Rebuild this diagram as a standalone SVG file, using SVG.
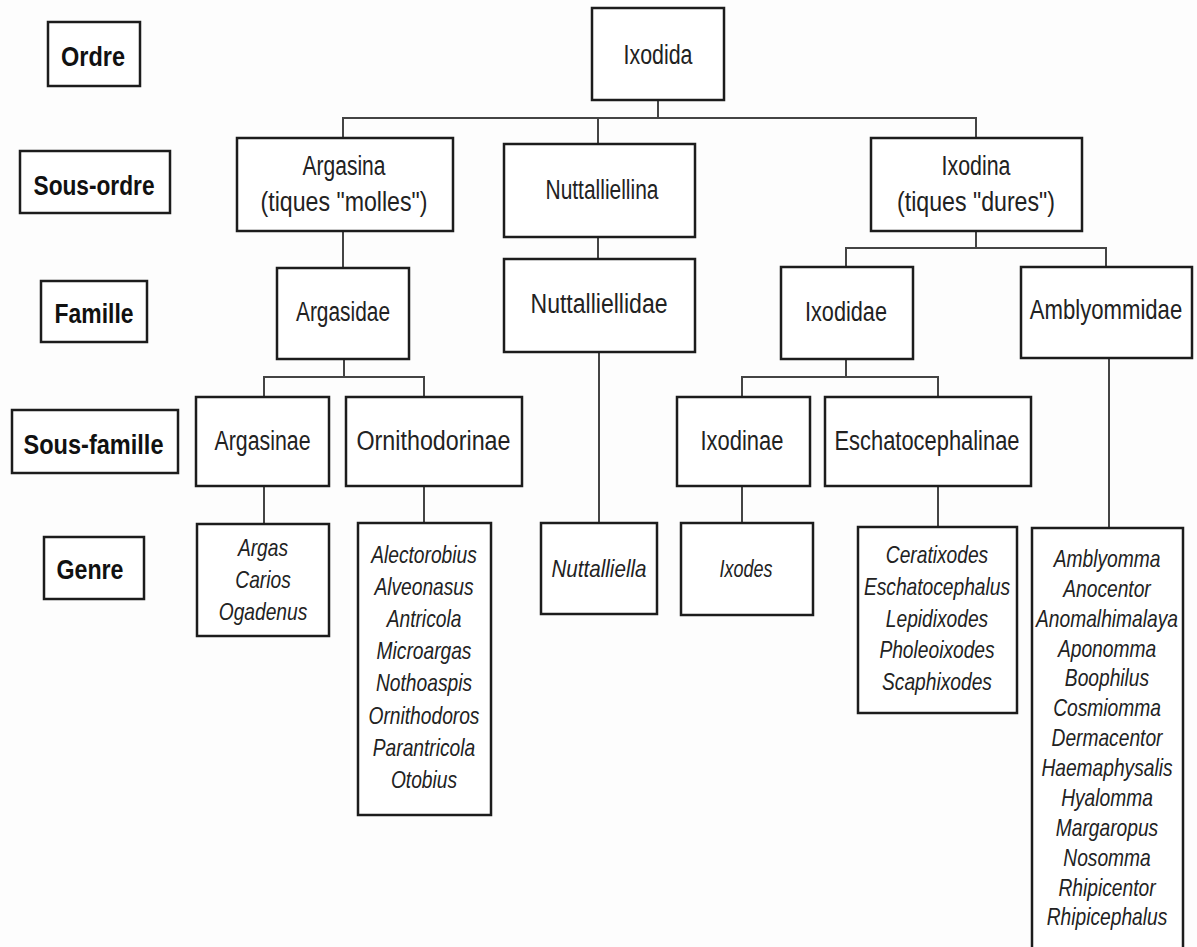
<svg xmlns="http://www.w3.org/2000/svg" width="1197" height="947" viewBox="0 0 1197 947">
<style>
rect.b{fill:#fff;stroke:#1c1c1c;stroke-width:2.5}
.c line{stroke:#444;stroke-width:2}
text{font-family:"Liberation Sans",Arial,sans-serif;fill:#222;text-anchor:middle}
.h{font-weight:bold;font-size:28px;fill:#111}
.n{font-size:27px}
.g{font-size:24px;font-style:italic}
</style>
<rect width="1197" height="947" fill="#fdfdfd"/>
<g class="c" id="connectors">
<line x1="658" y1="100" x2="658" y2="118"/>
<line x1="342" y1="118" x2="977" y2="118"/>
<line x1="343" y1="118" x2="343" y2="138"/>
<line x1="598" y1="118" x2="598" y2="144"/>
<line x1="976" y1="118" x2="976" y2="138"/>
<line x1="343" y1="231" x2="343" y2="268"/>
<line x1="598" y1="237" x2="598" y2="259"/>
<line x1="976" y1="231" x2="976" y2="248"/>
<line x1="845" y1="248" x2="1107" y2="248"/>
<line x1="846" y1="248" x2="846" y2="267"/>
<line x1="1106" y1="248" x2="1106" y2="267"/>
<line x1="344" y1="359" x2="344" y2="377"/>
<line x1="263" y1="377" x2="425" y2="377"/>
<line x1="264" y1="377" x2="264" y2="397"/>
<line x1="424" y1="377" x2="424" y2="397"/>
<line x1="599" y1="352" x2="599" y2="523"/>
<line x1="846" y1="359" x2="846" y2="377"/>
<line x1="741" y1="377" x2="939" y2="377"/>
<line x1="742" y1="377" x2="742" y2="397"/>
<line x1="938" y1="377" x2="938" y2="397"/>
<line x1="1109" y1="358" x2="1109" y2="528"/>
<line x1="264" y1="486" x2="264" y2="524"/>
<line x1="424" y1="486" x2="424" y2="523"/>
<line x1="742" y1="486" x2="742" y2="523"/>
<line x1="938" y1="486" x2="938" y2="527"/>
</g>
<g id="lbl-ordre"><rect class="b" x="48" y="22" width="92" height="64"/><text class="h" x="93" y="66" textLength="64" lengthAdjust="spacingAndGlyphs">Ordre</text></g>
<g id="lbl-sousordre"><rect class="b" x="20" y="151" width="150" height="62"/><text class="h" x="94" y="195" textLength="121" lengthAdjust="spacingAndGlyphs">Sous-ordre</text></g>
<g id="lbl-famille"><rect class="b" x="41" y="281" width="106" height="61"/><text class="h" x="94" y="323" textLength="79" lengthAdjust="spacingAndGlyphs">Famille</text></g>
<g id="lbl-sousfamille"><rect class="b" x="12" y="410" width="166" height="63"/><text class="h" x="93.5" y="454" textLength="140" lengthAdjust="spacingAndGlyphs">Sous-famille</text></g>
<g id="lbl-genre"><rect class="b" x="44" y="537" width="100" height="62"/><text class="h" x="90" y="579" textLength="67" lengthAdjust="spacingAndGlyphs">Genre</text></g>

<g id="ixodida"><rect class="b" x="592" y="8" width="132" height="92"/><text class="n" x="658" y="64" textLength="69" lengthAdjust="spacingAndGlyphs">Ixodida</text></g>
<g id="argasina"><rect class="b" x="237" y="138" width="216" height="93"/><text class="n" x="344" y="175" textLength="83" lengthAdjust="spacingAndGlyphs">Argasina</text><text class="n" x="344" y="211" textLength="167" lengthAdjust="spacingAndGlyphs">(tiques "molles")</text></g>
<g id="nuttalliellina"><rect class="b" x="504" y="144" width="191" height="93"/><text class="n" x="602" y="199" textLength="113" lengthAdjust="spacingAndGlyphs">Nuttalliellina</text></g>
<g id="ixodina"><rect class="b" x="871" y="138" width="211" height="93"/><text class="n" x="976" y="175" textLength="69" lengthAdjust="spacingAndGlyphs">Ixodina</text><text class="n" x="976" y="211" textLength="158" lengthAdjust="spacingAndGlyphs">(tiques "dures")</text></g>
<g id="argasidae"><rect class="b" x="277" y="268" width="132" height="91"/><text class="n" x="343" y="321" textLength="94" lengthAdjust="spacingAndGlyphs">Argasidae</text></g>
<g id="nuttalliellidae"><rect class="b" x="504" y="259" width="191" height="93"/><text class="n" x="599" y="313" textLength="137" lengthAdjust="spacingAndGlyphs">Nuttalliellidae</text></g>
<g id="ixodidae"><rect class="b" x="781" y="267" width="132" height="92"/><text class="n" x="846" y="321" textLength="82" lengthAdjust="spacingAndGlyphs">Ixodidae</text></g>
<g id="amblyommidae"><rect class="b" x="1021" y="267" width="171" height="91"/><text class="n" x="0" y="0" transform="translate(1106,319) scale(0.82,1)">Amblyommidae</text></g>
<g id="argasinae"><rect class="b" x="196" y="397" width="133" height="89"/><text class="n" x="262.5" y="450" textLength="96" lengthAdjust="spacingAndGlyphs">Argasinae</text></g>
<g id="ornithodorinae"><rect class="b" x="346" y="397" width="176" height="89"/><text class="n" x="433.5" y="450" textLength="154" lengthAdjust="spacingAndGlyphs">Ornithodorinae</text></g>
<g id="ixodinae"><rect class="b" x="677" y="397" width="133" height="89"/><text class="n" x="742" y="450" textLength="83" lengthAdjust="spacingAndGlyphs">Ixodinae</text></g>
<g id="eschatocephalinae"><rect class="b" x="825" y="397" width="206" height="89"/><text class="n" x="927" y="450" textLength="185" lengthAdjust="spacingAndGlyphs">Eschatocephalinae</text></g>

<g id="g-argasinae"><rect class="b" x="197" y="524" width="132" height="112"/>
<text class="g" transform="translate(263,0) scale(0.8,1)"><tspan x="0" y="556">Argas</tspan><tspan x="0" y="588">Carios</tspan><tspan x="0" y="620">Ogadenus</tspan></text></g>
<g id="g-ornithodorinae"><rect class="b" x="358" y="523" width="133" height="292"/>
<text class="g" transform="translate(424,0) scale(0.8,1)"><tspan x="0" y="563">Alectorobius</tspan><tspan x="0" y="595">Alveonasus</tspan><tspan x="0" y="627">Antricola</tspan><tspan x="0" y="659">Microargas</tspan><tspan x="0" y="691">Nothoaspis</tspan><tspan x="0" y="724">Ornithodoros</tspan><tspan x="0" y="756">Parantricola</tspan><tspan x="0" y="788">Otobius</tspan></text></g>
<g id="g-nuttalliella"><rect class="b" x="541" y="523" width="116" height="91"/><text class="g" x="599" y="577" textLength="95" lengthAdjust="spacingAndGlyphs">Nuttalliella</text></g>
<g id="g-ixodes"><rect class="b" x="681" y="523" width="132" height="92"/><text class="g" x="746" y="577" textLength="53" lengthAdjust="spacingAndGlyphs">Ixodes</text></g>
<g id="g-eschatocephalinae"><rect class="b" x="858" y="527" width="159" height="186"/>
<text class="g" transform="translate(937,0) scale(0.8,1)"><tspan x="0" y="563">Ceratixodes</tspan><tspan x="0" y="595">Eschatocephalus</tspan><tspan x="0" y="627">Lepidixodes</tspan><tspan x="0" y="658">Pholeoixodes</tspan><tspan x="0" y="690">Scaphixodes</tspan></text></g>
<g id="g-amblyommidae"><rect class="b" x="1032" y="528" width="151" height="440"/>
<text class="g" transform="translate(1107,0) scale(0.8,1)"><tspan x="0" y="567">Amblyomma</tspan><tspan x="0" y="597">Anocentor</tspan><tspan x="0" y="627">Anomalhimalaya</tspan><tspan x="0" y="657">Aponomma</tspan><tspan x="0" y="686">Boophilus</tspan><tspan x="0" y="716">Cosmiomma</tspan><tspan x="0" y="746">Dermacentor</tspan><tspan x="0" y="776">Haemaphysalis</tspan><tspan x="0" y="806">Hyalomma</tspan><tspan x="0" y="836">Margaropus</tspan><tspan x="0" y="866">Nosomma</tspan><tspan x="0" y="896">Rhipicentor</tspan><tspan x="0" y="925">Rhipicephalus</tspan></text></g>
</svg>
